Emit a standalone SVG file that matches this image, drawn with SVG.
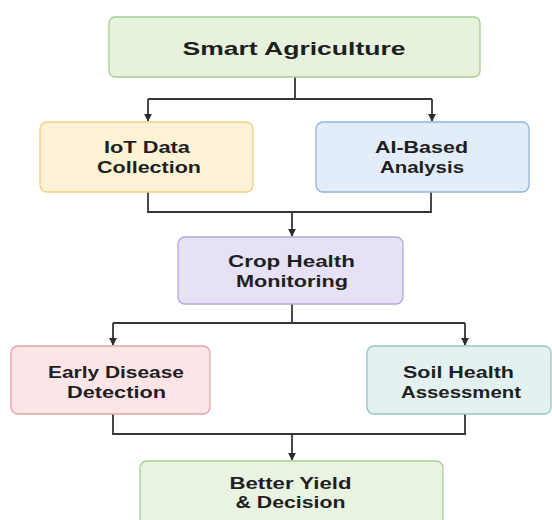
<svg xmlns="http://www.w3.org/2000/svg" width="552" height="520" viewBox="0 0 552 520">
  <defs>
    <marker id="arrow" viewBox="0 0 10 10" refX="9" refY="5" markerWidth="8" markerHeight="8" markerUnits="userSpaceOnUse" orient="auto">
      <path d="M0,0 L10,5 L0,10 z" fill="#2b2b2b"/>
    </marker>
    <style>
      .box { stroke-width: 1.3; }
      .label { font-family: "Liberation Sans", Arial, sans-serif; font-weight: 700; fill: #1f1f1f; text-anchor: middle; font-size: 17px; }
      .title { font-size: 19px; }
      .wire { fill: none; stroke: #363636; stroke-width: 1.8; }
    </style>
  </defs>
  <rect width="552" height="520" fill="#ffffff"/>

  <g id="connectors">
    <path class="wire" d="M295,77 V99 M148,99 H432"/>
    <path class="wire" d="M148,99 V121" marker-end="url(#arrow)"/>
    <path class="wire" d="M432,99 V121" marker-end="url(#arrow)"/>
    <path class="wire" d="M148,192 V212 H431 V192"/>
    <path class="wire" d="M292,212 V236" marker-end="url(#arrow)"/>
    <path class="wire" d="M292,304 V323 M113,323 H465"/>
    <path class="wire" d="M113,323 V345" marker-end="url(#arrow)"/>
    <path class="wire" d="M465,323 V345" marker-end="url(#arrow)"/>
    <path class="wire" d="M113,414 V434 H465 V414"/>
    <path class="wire" d="M292,434 V460" marker-end="url(#arrow)"/>
  </g>

  <g id="smart-agriculture">
    <rect class="box" x="109" y="17" width="371" height="60" rx="6" fill="#e7f2dd" stroke="#a8cc95"/>
    <text class="label title" x="294" y="55" textLength="223" lengthAdjust="spacingAndGlyphs">Smart Agriculture</text>
  </g>

  <g id="iot-data-collection">
    <rect class="box" x="40" y="122" width="213" height="70" rx="7" fill="#fdf2d5" stroke="#efcf83"/>
    <text class="label" x="147" y="153" textLength="86" lengthAdjust="spacingAndGlyphs">IoT Data</text>
    <text class="label" x="149" y="173" textLength="104" lengthAdjust="spacingAndGlyphs">Collection</text>
  </g>

  <g id="ai-based-analysis">
    <rect class="box" x="316" y="122" width="213" height="70" rx="7" fill="#e2edf9" stroke="#90b5de"/>
    <text class="label" x="421.5" y="153" textLength="93" lengthAdjust="spacingAndGlyphs">AI-Based</text>
    <text class="label" x="422" y="173" textLength="84" lengthAdjust="spacingAndGlyphs">Analysis</text>
  </g>

  <g id="crop-health-monitoring">
    <rect class="box" x="178" y="237" width="225" height="67" rx="7" fill="#e7e1f5" stroke="#b6a7dc"/>
    <text class="label" x="291.5" y="267" textLength="127" lengthAdjust="spacingAndGlyphs">Crop Health</text>
    <text class="label" x="292" y="287" textLength="112" lengthAdjust="spacingAndGlyphs">Monitoring</text>
  </g>

  <g id="early-disease-detection">
    <rect class="box" x="11" y="346" width="199" height="68" rx="7" fill="#fde5e7" stroke="#e6a3ab"/>
    <text class="label" x="116" y="378" textLength="136" lengthAdjust="spacingAndGlyphs">Early Disease</text>
    <text class="label" x="116.5" y="398" textLength="99" lengthAdjust="spacingAndGlyphs">Detection</text>
  </g>

  <g id="soil-health-assessment">
    <rect class="box" x="367" y="346" width="184" height="68" rx="7" fill="#e3f1f1" stroke="#95c6c6"/>
    <text class="label" x="458.5" y="378" textLength="111" lengthAdjust="spacingAndGlyphs">Soil Health</text>
    <text class="label" x="461" y="398" textLength="120" lengthAdjust="spacingAndGlyphs">Assessment</text>
  </g>

  <g id="better-yield-decision">
    <rect class="box" x="140" y="461" width="303" height="70" rx="7" fill="#e9f3e1" stroke="#a9cc99"/>
    <text class="label" x="290.5" y="489" textLength="122" lengthAdjust="spacingAndGlyphs">Better Yield</text>
    <text class="label" x="290.5" y="508" textLength="110" lengthAdjust="spacingAndGlyphs">&amp; Decision</text>
  </g>
</svg>
